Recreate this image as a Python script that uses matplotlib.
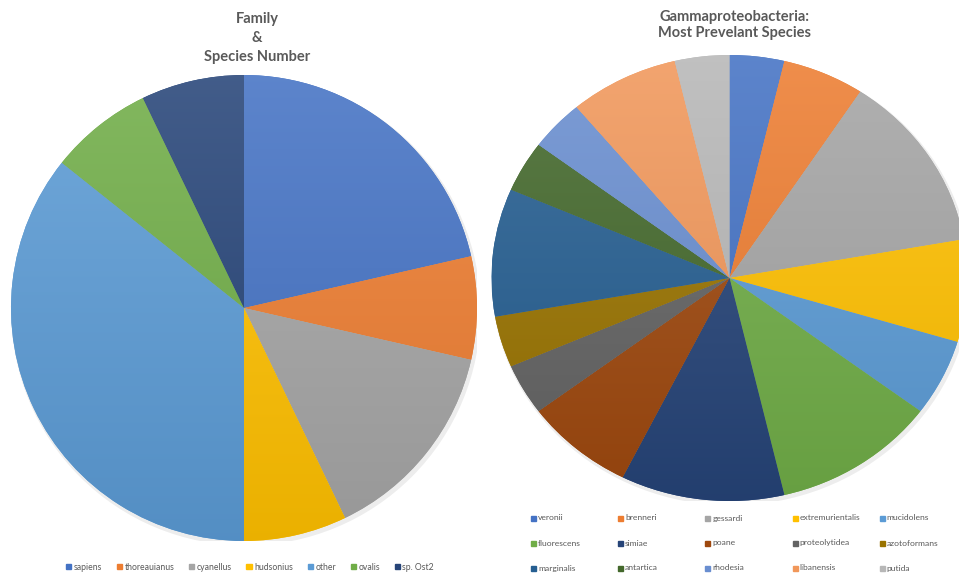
import matplotlib
matplotlib.use('Agg')
import matplotlib.pyplot as plt
import matplotlib.colors as mcolors
from matplotlib.patches import Rectangle, Ellipse
import numpy as np

plt.rcParams['font.family'] = ['Lato', 'DejaVu Sans']

# left pie: family & species number
fam_labels = ['sapiens', 'thoreauianus', 'cyanellus', 'hudsonius', 'other', 'ovalis', 'sp. Ost2']
fam_counts = [3, 1, 2, 1, 5, 1, 1]

# right pie: gammaproteobacteria species
gam_labels = ['veronii', 'brenneri', 'gessardi', 'extremurientalis', 'mucidolens',
              'fluorescens', 'simiae', 'poane', 'proteolytidea', 'azotoformans',
              'marginalis', 'antartica', 'rhodesia', 'libanensis', 'putida']
gam_counts = [2, 3, 7, 4, 3, 6, 6, 4, 2, 2, 5, 2, 2, 4, 2]

office = ['#4472C4', '#ED7D31', '#A5A5A5', '#FFC000', '#5B9BD5', '#70AD47', '#264478',
          '#9E480E', '#636363', '#997300', '#255E91', '#43682B', '#698ED0', '#F1975A', '#B7B7B7']
txt = '#595959'

W, H = 959, 576
fig = plt.figure(figsize=(W / 100, H / 100), dpi=100)


def mix(c, other, f):
    c = np.array(mcolors.to_rgb(c))
    return c * (1 - f) + np.array(other) * f


def gradient_pie(ax, counts, colors):
    ax.add_patch(Ellipse((0.008, -0.012), 2.015, 2.015, color='black', alpha=0.07, lw=0, zorder=0))
    wedges, _ = ax.pie(counts, colors=colors, startangle=90, counterclock=False, radius=1)
    t = np.linspace(0, 1, 256)[:, None, None]
    for w, c in zip(wedges, colors):
        top = mix(c, (1, 1, 1), 0.13)
        bot = mix(c, (0, 0, 0), 0.08)
        img = top[None, None, :] * (1 - t) + bot[None, None, :] * t
        im = ax.imshow(img, extent=(-1, 1, -1, 1), aspect='auto', origin='upper',
                       zorder=w.get_zorder() + 0.1)
        im.set_clip_path(w)
    ax.set_aspect('auto')
    ax.set_xlim(-1, 1)
    ax.set_ylim(-1, 1)
    ax.set_axis_off()


# left pie (circle centre 244,308 r 233 px)
cx, cy, r = 244, 308, 233
ax1 = fig.add_axes([(cx - r) / W, (H - cy - r) / H, 2 * r / W, 2 * r / H])
gradient_pie(ax1, fam_counts, office[:len(fam_counts)])

# right pie (ellipse centre 729.5,278 rx 238 ry 223 px)
cx, cy, rx, ry = 729.5, 278, 238, 223
ax2 = fig.add_axes([(cx - rx) / W, (H - cy - ry) / H, 2 * rx / W, 2 * ry / H])
gradient_pie(ax2, gam_counts, office[:len(gam_counts)])

fig.text(257 / W, 1 - 38 / H, 'Family\n&\nSpecies Number', ha='center', va='center',
         fontsize=10.5, fontweight='bold', color=txt, linespacing=1.45)
fig.text(735 / W, 1 - 25 / H, 'Gammaproteobacteria:\nMost Prevelant Species', ha='center',
         va='center', fontsize=10.5, fontweight='bold', color=txt, linespacing=1.25)

# left legend (one row, packed by text width)
handles = [Rectangle((0, 0), 1, 1, color=c) for c in office[:len(fam_labels)]]
fig.legend(handles, fam_labels, loc='center', bbox_to_anchor=(250 / W, 1 - 567 / H), ncol=7,
           frameon=False, fontsize=6.2, handlelength=0.6, handleheight=0.6,
           handletextpad=0.3, columnspacing=1.7, labelcolor=txt, borderpad=0)

# right legend (5 columns, row major)
sq = 5
for i, (lab, c) in enumerate(zip(gam_labels, office)):
    row, col = divmod(i, 5)
    x = 531 + col * 87.2
    y = 518 + row * 25
    fig.add_artist(Rectangle((x / W, (H - y - sq / 2) / H), sq / W, sq / H, color=c,
                             transform=fig.transFigure))
    fig.text((x + sq + 2) / W, 1 - y / H, lab, ha='left', va='center', fontsize=6.1, color=txt)

fig.savefig('out.png', dpi=100)
